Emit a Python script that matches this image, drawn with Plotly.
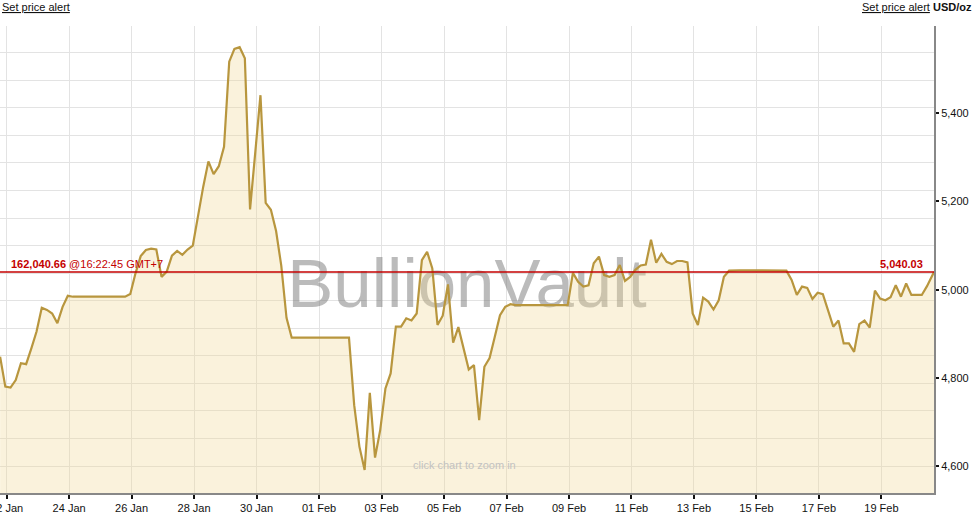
import pandas as pd
import plotly.graph_objects as go

# 4-hourly gold price, USD/oz
start_time = "2026-01-21 19:00"
live_time = "2026-02-20 16:22:45"
live_price = 5040.03
live_price_kg = "162,040.66"
prices = [
    4848, 4780, 4778, 4795, 4833, 4831, 4867, 4905, 4959, 4954, 4946, 4924, 4961, 4986,
    4984, 4984, 4984, 4984, 4984, 4984, 4984, 4984, 4984, 4984, 4984,
    4990, 5037, 5076, 5090, 5093, 5091, 5029, 5041, 5077, 5088, 5079, 5091, 5100,
    5169, 5233, 5291, 5262, 5280, 5324, 5517, 5546, 5550, 5525, 5182, 5308, 5441,
    5197, 5181, 5133, 5054, 4936,
    4891, 4891, 4891, 4891, 4891, 4891, 4891, 4891, 4891, 4891, 4891, 4891,
    4738, 4644, 4591, 4766, 4619, 4682, 4776, 4810, 4916, 4916, 4935, 4930, 4946,
    5067, 5086, 5048, 4920, 4941, 5012, 4880, 4915, 4867, 4819, 4829, 4704, 4825,
    4845, 4893, 4942, 4961, 4967,
    4965, 4965, 4965, 4965, 4965, 4965, 4965, 4965, 4965, 4965, 4965,
    5038, 5018, 5007, 5010, 5060, 5075, 5033, 5029, 5033, 5056, 5020, 5029, 5045,
    5055, 5057, 5113, 5061, 5081, 5063, 5058, 5065, 5065, 5062, 4946, 4920, 4982,
    4973, 4955, 4976, 5029, 5043,
    5044, 5044, 5044, 5044, 5044, 5044, 5044, 5044, 5044, 5044,
    5043, 5022, 4988, 5007, 5004, 4979, 4993, 4990, 4954, 4916, 4930, 4878, 4878,
    4859, 4922, 4930, 4914, 4998, 4980, 4976, 4983, 5010, 4984, 5014, 4988, 4988,
    4988, 5008,
]

times = list(pd.date_range(start_time, periods=len(prices), freq="4h"))
times.append(pd.Timestamp(live_time))
values = prices + [live_price]

x_start = pd.Timestamp("2026-01-21 18:55")
x_end = pd.Timestamp(live_time)
y_range = [4538.8, 5598.0]

font = "Liberation Sans, Arial, sans-serif"
gold = "#b8963e"
red = "#c40000"
grid = "#e3e3e3"

fig = go.Figure()
# watermark goes first so the price area is drawn over it
fig.add_trace(go.Scatter(
    x=[x_start + (x_end - x_start) * 0.5],
    y=[4999],
    mode="text",
    text=["BullionVault"],
    textfont=dict(family=font, size=69, color="rgba(120,120,120,0.5)"),
    hoverinfo="skip",
))
fig.add_trace(go.Scatter(
    x=times,
    y=values,
    mode="lines",
    line=dict(color=gold, width=2.2),
    fill="tozeroy",
    fillcolor="rgba(240,215,150,0.33)",
    hovertemplate="%{x}<br>%{y:,.2f}<extra></extra>",
))
fig.add_hline(y=live_price, line_color=red, line_width=1.3)

live_clock = pd.Timestamp(live_time).strftime("%H:%M:%S")
fig.add_annotation(
    xref="paper", yref="y", x=0, y=live_price,
    xanchor="left", yanchor="bottom", xshift=9,
    text=f"<b>{live_price_kg}</b> @{live_clock} GMT+7",
    showarrow=False, font=dict(family=font, size=11, color=red),
)
fig.add_annotation(
    xref="paper", yref="y", x=1, y=live_price,
    xanchor="right", yanchor="bottom", xshift=-9,
    text=f"<b>{live_price:,.2f}</b>",
    showarrow=False, font=dict(family=font, size=11, color=red),
)
fig.add_annotation(
    xref="paper", yref="paper", x=0, y=1,
    xanchor="left", yanchor="top", xshift=0, yshift=27,
    text="<u>Set price alert</u>",
    showarrow=False, font=dict(family=font, size=11, color="#111"),
)
fig.add_annotation(
    xref="paper", yref="paper", x=1, y=1,
    xanchor="right", yanchor="top", xshift=40, yshift=27,
    text="<u>Set price alert</u> <b>USD/oz</b>",
    showarrow=False, font=dict(family=font, size=11, color="#111"),
)
fig.add_annotation(
    xref="paper", yref="paper", x=0.497, y=0.043,
    text="click chart to zoom in",
    showarrow=False, font=dict(family=font, size=11, color="#c2c2c2"),
)

fig.update_layout(
    width=974,
    height=519,
    margin=dict(l=0, r=40, t=26, b=26, autoexpand=False),
    paper_bgcolor="white",
    plot_bgcolor="white",
    showlegend=False,
    font=dict(family=font, size=11, color="#111"),
)
fig.update_xaxes(
    type="date",
    range=[x_start, x_end],
    tick0="2026-01-22",
    dtick=2 * 86400000,
    tickformat="%d %b",
    ticklabeloverflow="allow",
    ticks="outside",
    ticklen=4,
    tickwidth=1.5,
    tickcolor="#111",
    showline=True,
    linecolor="#888",
    linewidth=2,
    showgrid=True,
    gridcolor=grid,
    gridwidth=1,
    zeroline=False,
)
fig.update_yaxes(
    side="right",
    range=y_range,
    tick0=4600,
    dtick=200,
    tickformat=",d",
    ticks="outside",
    ticklen=3,
    tickwidth=2,
    tickcolor="#111",
    showline=True,
    linecolor="#888",
    linewidth=2,
    showgrid=False,
    zeroline=False,
    minor=dict(tick0=4600.001, dtick=62.5, ticks="", showgrid=True, gridcolor=grid, gridwidth=1),
)
# the page's default body margin would push the chart off by 8px
fig.write_html(
    "out.html",
    config={"displayModeBar": False},
    post_script="document.body.style.margin = '0';",
)
